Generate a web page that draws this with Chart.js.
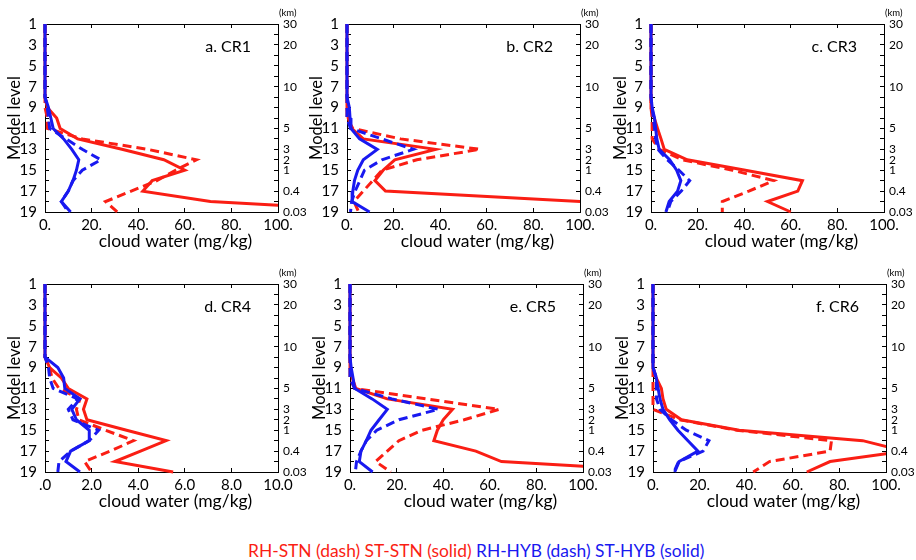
<!DOCTYPE html>
<html>
<head>
<meta charset="utf-8">
<script src="https://cdn.jsdelivr.net/npm/chart.js@4.4.1/dist/chart.umd.min.js"></script>
<style>
  body { margin: 0; background: #fff; }
  #wrap { position: relative; width: 916px; height: 560px; overflow: hidden; font-family: Lato, sans-serif; }
  #wrap canvas { position: absolute; }
  #key { position: absolute; left: 248px; top: 540px; font-size: 17.4px; line-height: 22px; white-space: nowrap; }
</style>
</head>
<body>
<div id="wrap">
  <canvas id="cr1" width="312" height="260" style="left:0px;top:0px"></canvas>
  <canvas id="cr2" width="312" height="260" style="left:302px;top:0px"></canvas>
  <canvas id="cr3" width="312" height="260" style="left:606px;top:0px"></canvas>
  <canvas id="cr4" width="312" height="260" style="left:0px;top:260px"></canvas>
  <canvas id="cr5" width="312" height="260" style="left:305px;top:260px"></canvas>
  <canvas id="cr6" width="312" height="260" style="left:608px;top:260px"></canvas>
  <div id="key"><span style="color:rgb(250,30,20)">RH-STN (dash) ST-STN (solid)</span> <span style="color:rgb(25,25,240)">RH-HYB (dash) ST-HYB (solid)</span></div>
</div>
<script>
// model levels, 1 = top of the model
const levels = [1, 2, 3, 4, 5, 6, 7, 8, 9, 10, 11, 12, 13, 14, 15, 16, 17, 18, 19];
// height (km) written on the right axis, one entry per level
const kmLabels = ['30', '', '20', '', '', '', '10', '', '', '', '5', '', '3', '2', '1', '', '0.4', '', '0.03'];
const cwTickLabels = ['0.', '20.', '40.', '60.', '80.', '100.'];
const cr4TickLabels = ['.0', '2.0', '4.0', '6.0', '8.0', '10.0'];

// cloud water (mg/kg) per level
const cr1RhStn = [0, 0, 0, 0, 0, 0, 0, 0, 0, 1, 1, 16, 44, 65, 56, 48, 37, 26, 31];
const cr1StStn = [0, 0, 0, 0, 0, 0, 0, 0, 1, 5, 6.5, 14, 33, 51, 60, 46, 42, 71, 154];
const cr1RhHyb = [0, 0, 0, 0, 0, 0, 0, 0, 1, 1.5, 2, 9, 16, 24, 16, 12, 10, 7, 10];
const cr1StHyb = [0, 0, 0, 0, 0, 0, 0, 0, 1.5, 2.5, 3.5, 8, 11.5, 14.5, 13.5, 12, 10, 7, 11];

const cr2RhStn = [0, 0, 0, 0, 0, 0, 0, 0, 0, 0, 2.5, 23, 57, 30, 15, 11, 7, 3, 5];
const cr2StStn = [0, 0, 0, 0, 0, 0, 0, 0, 0, 0.5, 2, 7, 38, 20.5, 15.5, 12, 16.5, 101, 150];
const cr2RhHyb = [0, 0, 0, 0, 0, 0, 0, 0, 0, 0, 1.5, 15, 28.5, 15, 7.5, 5.5, 3.5, 2, 1.5];
const cr2StHyb = [0, 0, 0, 0, 0, 0, 0, 0, 1, 1.3, 1.7, 5.4, 13, 7, 4.6, 3.2, 2.5, 2.2, 9.7];

const cr3RhStn = [0, 0, 0, 0, 0, 0, 0, 0, 0, 0.5, 0.5, 0.5, 3.5, 13.5, 35, 52.6, 42, 30.6, 30.6];
const cr3StStn = [0, 0, 0, 0, 0, 0, 0, 0, 0, 1.4, 2.8, 4.3, 5.7, 15.6, 40.5, 65, 63, 50, 60];
const cr3RhHyb = [0, 0, 0, 0, 0, 0, 0, 0, 0.5, 1, 1.5, 2, 3, 7, 12, 16.6, 13, 8.5, 7];
const cr3StHyb = [0, 0, 0, 0, 0, 0, 0, 0, 0.5, 1.5, 2, 2.5, 3.5, 8, 11, 12.8, 11.4, 7.8, 6.4];

const cr4RhStn = [0, 0, 0, 0, 0, 0, 0, 0, 0.2, 0.3, 0.6, 1.5, 1.35, 1.45, 2.6, 3.8, 2.8, 1.7, 2.0];
const cr4StStn = [0, 0, 0, 0, 0, 0, 0, 0, 0.2, 0.7, 1.0, 1.8, 1.65, 1.8, 3.5, 5.2, 4.1, 3.0, 5.5];
const cr4RhHyb = [0, 0, 0, 0, 0, 0, 0, 0, 0.15, 0.2, 0.35, 1.4, 1.0, 1.2, 2.3, 1.9, 1.1, 0.6, 0.55];
const cr4StHyb = [0, 0, 0, 0, 0, 0, 0, 0, 0.55, 0.8, 0.85, 1.5, 1.15, 1.35, 1.9, 1.9, 1.1, 0.9, 1.5];

const cr5RhStn = [0, 0, 0, 0, 0, 0, 0, 0, 0, 0, 2, 33, 64, 49, 31, 21, 16, 11, 17.5];
const cr5StStn = [0, 0, 0, 0, 0, 0, 0, 0, 0, 1, 2.5, 16, 44, 40, 37.5, 36, 54, 65, 143];
const cr5RhHyb = [0, 0, 0, 0, 0, 0, 0, 0, 0, 0, 2, 18, 38, 21, 11.5, 7, 4.7, 2.8, 2.3];
const cr5StHyb = [0, 0, 0, 0, 0, 0, 0, 0, 0.5, 1.3, 2, 9.5, 16, 12.5, 9, 7, 4.7, 4, 9.7];

const cr6RhStn = [0, 0, 0, 0, 0, 0, 0, 0, 0, 0, 0, 0, 0, 11.5, 36, 76.6, 76, 50, 43];
const cr6StStn = [0, 0, 0, 0, 0, 0, 0, 0, 0, 1.4, 3.6, 4.3, 5.7, 12.2, 37, 90, 108, 76, 66];
const cr6RhHyb = [0, 0, 0, 0, 0, 0, 0, 0, 0, 1.5, 1.5, 1.5, 3, 8, 14.3, 24, 21.5, 11, 9];
const cr6StHyb = [0, 0, 0, 0, 0, 0, 0, 0, 0, 1.4, 2.2, 3, 4.3, 7.2, 10.7, 15, 19.3, 11.2, 9.3];

const panels = [
  { id: 'cr1', label: 'a. CR1', max: 100, ticks: cwTickLabels, series: [cr1RhStn, cr1StStn, cr1RhHyb, cr1StHyb] },
  { id: 'cr2', label: 'b. CR2', max: 100, ticks: cwTickLabels, series: [cr2RhStn, cr2StStn, cr2RhHyb, cr2StHyb] },
  { id: 'cr3', label: 'c. CR3', max: 100, ticks: cwTickLabels, series: [cr3RhStn, cr3StStn, cr3RhHyb, cr3StHyb] },
  { id: 'cr4', label: 'd. CR4', max: 10, ticks: cr4TickLabels, series: [cr4RhStn, cr4StStn, cr4RhHyb, cr4StHyb] },
  { id: 'cr5', label: 'e. CR5', max: 100, ticks: cwTickLabels, series: [cr5RhStn, cr5StStn, cr5RhHyb, cr5StHyb] },
  { id: 'cr6', label: 'f. CR6', max: 100, ticks: cwTickLabels, series: [cr6RhStn, cr6StStn, cr6RhHyb, cr6StHyb] }
];

const red = 'rgb(250,30,20)';
const blue = 'rgb(25,25,240)';
const dash = [9, 5];

Chart.defaults.font.family = 'Lato';
Chart.defaults.color = '#000';

// panel name, "(km)" and the x title
const panelText = {
  id: 'panelText',
  afterDraw(chart, args, opts) {
    const ctx = chart.ctx;
    const a = chart.chartArea;
    ctx.save();
    ctx.fillStyle = '#000';
    ctx.textBaseline = 'middle';
    ctx.font = '16px Lato';
    ctx.textAlign = 'right';
    ctx.fillText(opts.label, a.right - 27, a.top + 23);
    ctx.font = '9.5px Lato';
    ctx.textAlign = 'left';
    ctx.fillText('(km)', a.right + 1, 13);
    ctx.font = '17.5px Lato';
    ctx.textAlign = 'center';
    ctx.fillText('cloud water (mg/kg)', (a.left + a.right) / 2 + 14, a.bottom + 29);
    ctx.restore();
  }
};

function pts(arr) {
  return levels.map((l, i) => ({ x: arr[i], y: l }));
}

function line(label, arr, color, isDash) {
  return {
    label: label,
    data: pts(arr),
    borderColor: color,
    borderWidth: 3,
    borderDash: isDash ? dash : [],
    pointRadius: 0,
    fill: false,
    tension: 0,
    clip: { left: 5, top: 5, right: 0, bottom: 5 }
  };
}

const gridOpts = { drawOnChartArea: false, tickLength: -4, color: '#000', tickColor: '#000', lineWidth: 1 };
const borderOpts = { display: true, color: '#000', width: 1 };

panels.forEach((p) => {
  const ctx = document.getElementById(p.id);
  const W = ctx.width;
  new Chart(ctx,
  {
    type: 'line',
    data:
    {
      datasets:
      [
        line('RH-HYB', p.series[2], blue, true),
        line('ST-HYB', p.series[3], blue, false),
        line('RH-STN', p.series[0], red, true),
        line('ST-STN', p.series[1], red, false)
      ]
    },
    options:
    {
      responsive: false,
      animation: false,
      events: [],
      layout: { padding: 0 },
      plugins: { legend: { display: false }, tooltip: { enabled: false }, panelText: { label: p.label } },
      scales:
      {
        x: {
          type: 'linear', position: 'bottom', min: 0, max: p.max,
          ticks: { stepSize: p.max / 5, autoSkip: false, maxRotation: 0, padding: 8, font: { size: 15 }, callback: (v, i) => p.ticks[i] },
          grid: gridOpts, border: borderOpts,
          afterFit: (s) => { s.height = 48; }
        },
        x2: {
          type: 'linear', position: 'top', min: 0, max: p.max,
          ticks: { stepSize: p.max / 5, autoSkip: false, callback: () => '' },
          grid: gridOpts, border: borderOpts,
          afterFit: (s) => { s.height = 24; }
        },
        y: {
          type: 'linear', position: 'left', reverse: true, min: 1, max: 19,
          ticks: { stepSize: 1, autoSkip: false, padding: 12, font: { size: 15 }, callback: (v) => (v % 2 ? String(v) : '') },
          grid: gridOpts, border: borderOpts,
          title: { display: true, text: 'Model level', font: { size: 16.5 }, padding: { top: 5, bottom: 0 } },
          afterFit: (s) => { s.width = 45; }
        },
        y2: {
          type: 'linear', position: 'right', reverse: true, min: 1, max: 19,
          ticks: { stepSize: 1, autoSkip: false, padding: 9, font: { size: 12 }, callback: (v) => kmLabels[v - 1] },
          grid: gridOpts, border: borderOpts,
          afterFit: (s) => { s.width = W - 278; }
        }
      }
    },
    plugins: [panelText]
  });
});
</script>
</body>
</html>
